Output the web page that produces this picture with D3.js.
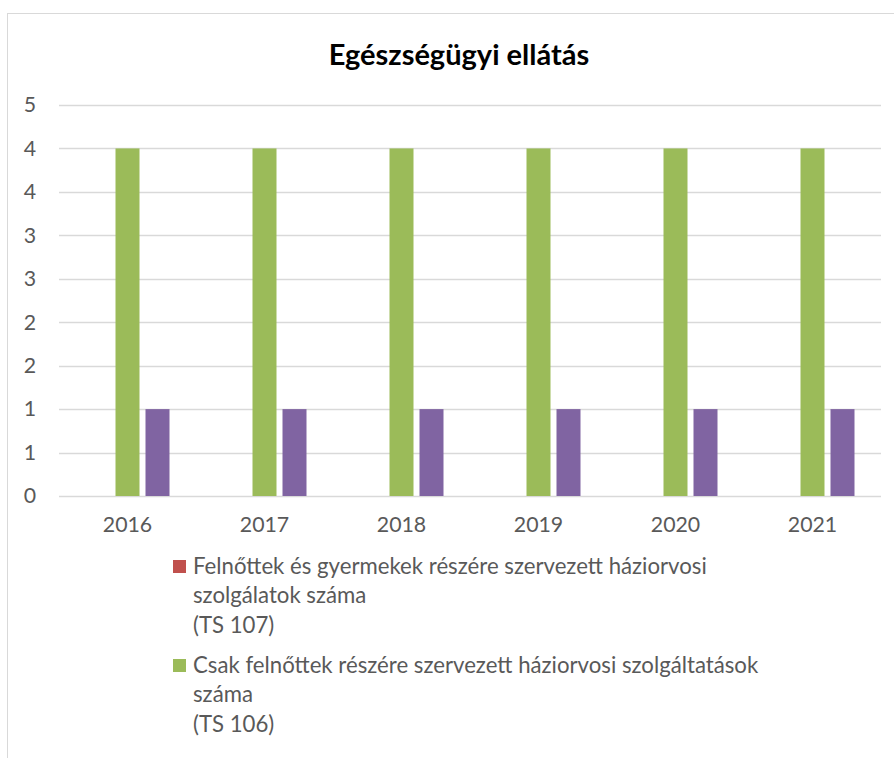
<!DOCTYPE html>
<html>
<head>
<meta charset="utf-8">
<script src="https://cdn.jsdelivr.net/npm/d3@7"></script>
<style>
  body { margin: 0; background: #fff; }
  text { font-family: Lato, "Open Sans", sans-serif; }
</style>
</head>
<body>
<div id="chart"></div>
<script>
// chart data
var years = ["2016", "2017", "2018", "2019", "2020", "2021"];
var seriesNames = [
  "Felnőttek és gyermekek részére szervezett háziorvosi szolgálatok száma (TS 107)",
  "Csak felnőttek részére szervezett háziorvosi szolgáltatások száma (TS 106)",
  "TS 108"
];
var ts107 = [0, 0, 0, 0, 0, 0];
var ts106 = [4, 4, 4, 4, 4, 4];
var ts108 = [1, 1, 1, 1, 1, 1];
var yTicks = [0, 0.5, 1, 1.5, 2, 2.5, 3, 3.5, 4, 4.5];
var yLabels = ["0", "1", "1", "2", "2", "3", "3", "4", "4", "5"];
var legendLines = [
  ["Felnőttek és gyermekek részére szervezett háziorvosi", "szolgálatok száma", "(TS 107)"],
  ["Csak felnőttek részére szervezett háziorvosi szolgáltatások", "száma", "(TS 106)"]
];
var colors = ["#C0504D", "#9BBB59", "#8064A2"];

var width = 894, height = 758;

var svg = d3.select("#chart").append("svg")
    .attr("width", width)
    .attr("height", height);

// chart border (cut at right and bottom)
svg.append("rect")
    .attr("x", 7.5).attr("y", 13.5)
    .attr("width", 920).attr("height", 800)
    .style("fill", "none")
    .style("stroke", "#d9d9d9");

// title
svg.append("text")
    .attr("x", 459).attr("y", 65)
    .attr("text-anchor", "middle")
    .style("font-size", "29px")
    .style("font-weight", "bold")
    .style("fill", "#000")
    .text("Egészségügyi ellátás");

// scales
var x = d3.scaleBand().domain(years).range([59, 881]);
var xs = d3.scaleBand().domain([0, 1, 2]).range([-42, 42]).paddingInner(0.2);
var y = d3.scaleLinear().domain([0, 4.5]).range([496, 105]);

// gridlines
svg.append("g")
  .selectAll("line")
  .data(yTicks)
  .enter().append("line")
    .attr("x1", 59).attr("x2", 881)
    .attr("y1", function(d) { return Math.round(y(d)) + 0.5; })
    .attr("y2", function(d) { return Math.round(y(d)) + 0.5; })
    .style("stroke", "#d9d9d9")
    .style("stroke-width", 1.3);

// y axis labels
var yAxis = svg.append("g")
    .attr("transform", "translate(59,0)")
    .call(d3.axisLeft(y).tickValues(yTicks).tickSize(0).tickPadding(23)
      .tickFormat(function(d, i) { return yLabels[i]; }));
yAxis.select(".domain").remove();
yAxis.selectAll("text")
    .style("font-size", "21.3px")
    .style("font-family", "Lato, sans-serif")
    .style("fill", "#595959");

// x axis labels
var xAxis = svg.append("g")
    .attr("transform", "translate(0,496)")
    .call(d3.axisBottom(x).tickSize(0).tickPadding(21));
xAxis.select(".domain").remove();
xAxis.selectAll("text")
    .style("font-size", "21.3px")
    .style("font-family", "Lato, sans-serif")
    .style("fill", "#595959");

// bars
var series = [ts107, ts106, ts108];
for (var s = 0; s < series.length; s++) {
  svg.append("g")
    .selectAll("rect")
    .data(series[s])
    .enter().append("rect")
      .attr("x", function(d, i) { return x(years[i]) + x.bandwidth() / 2 + xs(s); })
      .attr("width", xs.bandwidth())
      .attr("y", function(d) { return y(d); })
      .attr("height", function(d) { return y(0) - y(d); })
      .style("fill", colors[s]);
}

// legend (third entry does not fit)
var lineH = 29.7;
var entryY = [566, 665];
for (var k = 0; k < legendLines.length; k++) {
  svg.append("rect")
    .attr("x", 173).attr("y", entryY[k] - 6)
    .attr("width", 13).attr("height", 13)
    .style("fill", colors[k]);
  svg.append("g")
    .selectAll("text")
    .data(legendLines[k])
    .enter().append("text")
      .attr("x", 193)
      .attr("y", function(d, i) { return entryY[k] + i * lineH; })
      .attr("dy", "0.35em")
      .style("font-size", "22.2px")
      .style("fill", "#595959")
      .text(function(d) { return d; });
}
</script>
</body>
</html>
